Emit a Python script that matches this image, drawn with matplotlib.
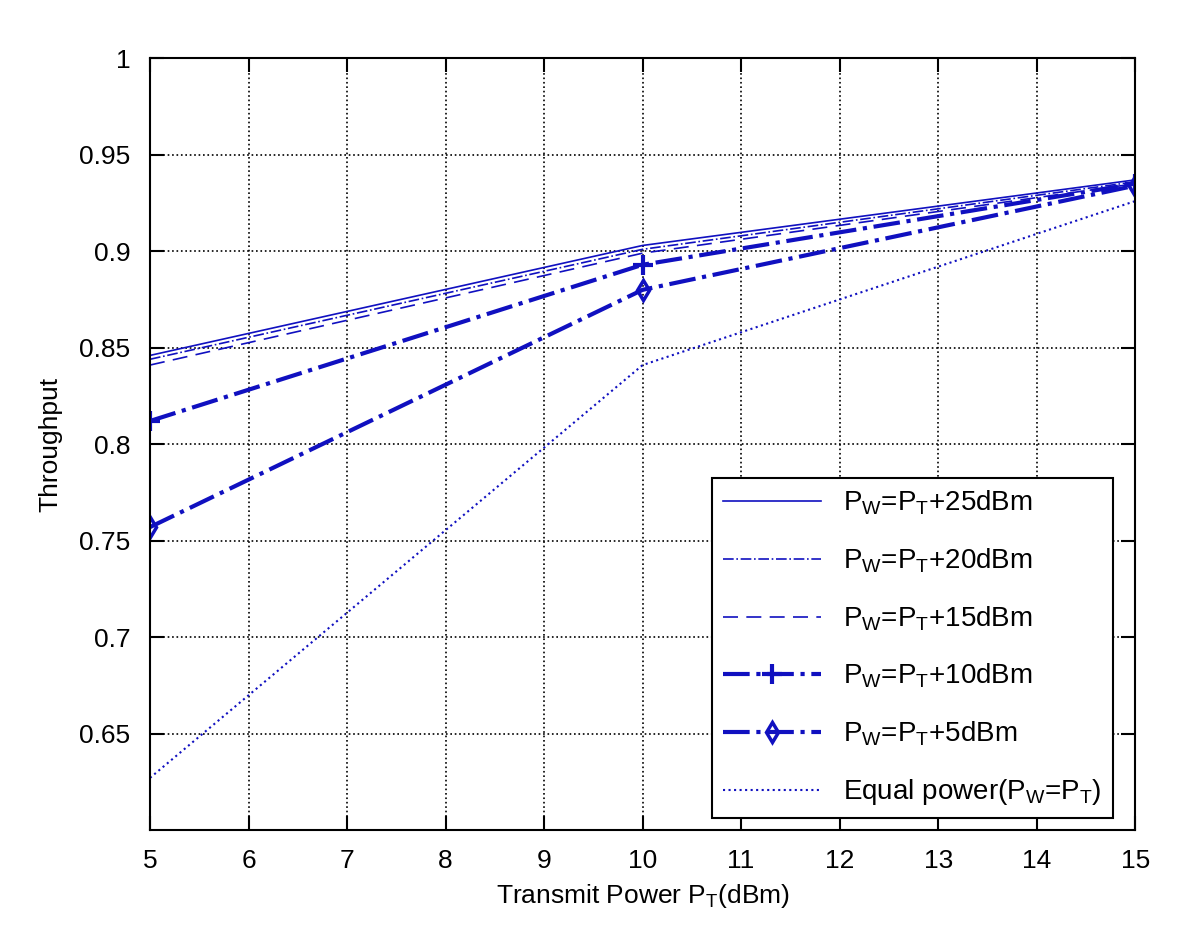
import numpy as np
import matplotlib.pyplot as plt

plt.rcParams['font.family'] = ['Liberation Sans', 'DejaVu Sans']
plt.rcParams['mathtext.fontset'] = 'custom'
plt.rcParams['mathtext.rm'] = 'Liberation Sans'
plt.rcParams['mathtext.it'] = 'Liberation Sans'

# transmit power (dBm)
pt = [5, 10, 15]

# throughput for each power setting
thr_25 = [0.846, 0.903, 0.937]
thr_20 = [0.844, 0.901, 0.936]
thr_15 = [0.841, 0.899, 0.935]
thr_10 = [0.812, 0.893, 0.935]
thr_5 = [0.757, 0.880, 0.934]
thr_eq = [0.627, 0.841, 0.926]

labels = [r'P$_W$=P$_T$+25dBm', r'P$_W$=P$_T$+20dBm', r'P$_W$=P$_T$+15dBm',
          r'P$_W$=P$_T$+10dBm', r'P$_W$=P$_T$+5dBm', r'Equal power(P$_W$=P$_T$)']

fig = plt.figure(figsize=(12, 9.41), dpi=100)
ax = fig.add_axes([0.125, 0.118, 0.821, 0.820])

c = '#1010c0'
ax.plot(pt, thr_25, '-', color=c, lw=1.2, label=labels[0])
ax.plot(pt, thr_20, '-.', color=c, lw=1.2, label=labels[1])
ax.plot(pt, thr_15, '--', color=c, lw=1.2, dashes=(9, 5), label=labels[2])
ax.plot(pt, thr_10, '-.', color=c, lw=3, marker='+', ms=14, mew=3, label=labels[3])
ax.plot(pt, thr_5, '-.', color=c, lw=3, marker='d', ms=10, mew=2.5, mfc='none', label=labels[4])
ax.plot(pt, thr_eq, ':', color=c, lw=1.5, label=labels[5])

ax.set_xlim(5, 15)
ax.set_ylim(0.6, 1)
ax.set_xticks(np.arange(5, 16, 1))
ax.set_yticks([0.65, 0.7, 0.75, 0.8, 0.85, 0.9, 0.95, 1])
ax.set_yticklabels(['0.65', '0.7', '0.75', '0.8', '0.85', '0.9', '0.95', '1'])
ax.grid(True, linestyle=':', color='black', lw=1.2)
ax.tick_params(direction='in', length=10, width=1.5, labelsize=19, top=True, right=True, pad=14)
for s in ax.spines.values():
    s.set_linewidth(1.5)

ax.set_xlabel(r'Transmit Power P$_T$(dBm)', fontsize=19, labelpad=6)
ax.set_ylabel('Throughput', fontsize=19, labelpad=12)

leg = ax.legend(loc='lower right', bbox_to_anchor=(0.977, 0.015), borderaxespad=0,
                fontsize=20, fancybox=False, edgecolor='black', framealpha=1,
                handlelength=3.5, labelspacing=1.05)
leg.get_frame().set_linewidth(1.5)

plt.savefig('out.png')
